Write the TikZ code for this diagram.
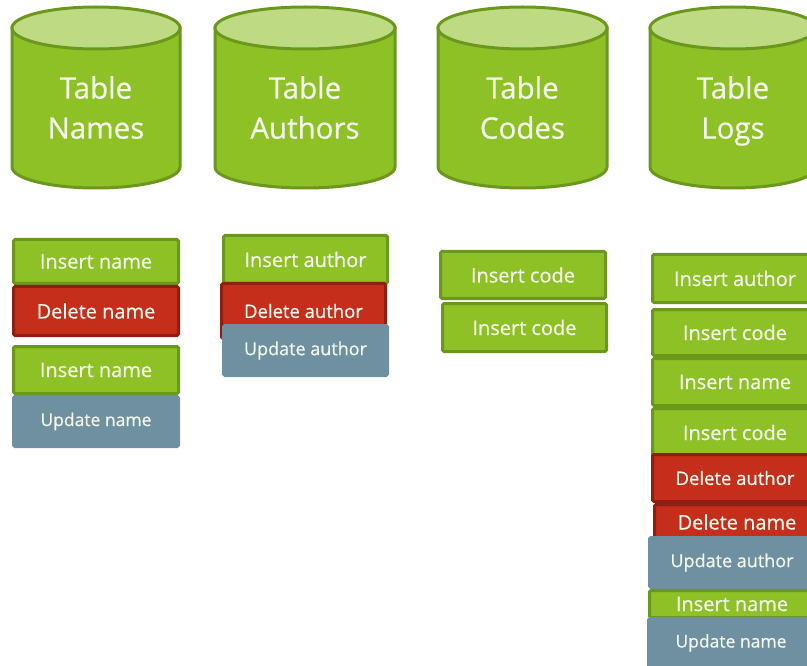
\documentclass[tikz,border=0pt]{standalone}
\usepackage{fontspec}
\setmainfont{Open Sans}
\newfontfamily\opfont{Open Sans}[FakeBold=0.6]
\definecolor{tblgreen}{RGB}{141,193,37}
\definecolor{tbldark}{RGB}{107,152,28}
\definecolor{tbltop}{RGB}{190,218,131}
\definecolor{delred}{RGB}{196,46,26}
\definecolor{deldark}{RGB}{145,30,18}
\definecolor{updblue}{RGB}{110,144,160}
\definecolor{optext}{RGB}{244,247,236}
\tikzset{
  op/.style={rectangle,rounded corners=1.5pt,line width=3pt,inner sep=0pt,
    text=optext,font=\opfont\fontsize{17.5}{17.5}\selectfont,minimum width=165pt},
  ins/.style={op,fill=tblgreen,draw=tbldark,font=\opfont\fontsize{20}{20}\selectfont},
  del/.style={op,fill=delred,draw=deldark,font=\opfont\fontsize{19}{19}\selectfont},
  upd/.style={op,fill=updblue,draw=updblue},
  tbl/.style={align=center,anchor=north,inner sep=0pt,text=optext,font=\opfont\fontsize{29.5}{40}\selectfont}
}
\begin{document}
\begin{tikzpicture}[x=1pt,y=-1pt]
  \clip (0,0) rectangle (807,666);
  \fill[white] (0,0) rectangle (807,666);
  % tables
  \foreach \cx/\rx/\id/\lbl in {96/84/names/Names,305/90/authors/Authors,522.5/84.5/codes/Codes,733/83/logs/Logs}{
    \draw[line width=3pt,draw=tbldark,fill=tblgreen] (\cx-\rx,28) -- (\cx-\rx,167)
      arc[start angle=180,end angle=0,x radius=\rx,y radius=21] -- (\cx+\rx,28) -- cycle;
    \draw[line width=3pt,draw=tbldark,fill=tbltop] (\cx,28) ellipse[x radius=\rx,y radius=21];
    \node[tbl] (\id) at (\cx,76) {Table\\\lbl};
  }
  % names
  \node[ins,minimum height=44pt] (nm1) at (96,261.5) {Insert name};
  \node[del,minimum height=49pt,font=\opfont\fontsize{20}{20}\selectfont] (nm2) at (96,311) {Delete name};
  \node[ins,minimum height=47pt] (nm3) at (96,370) {Insert name};
  \node[upd,minimum height=50pt] (nm4) at (96,421.5) {Update name};
  % authors
  \node[ins,minimum height=48pt,minimum width=164pt] (au1) at (305.5,259.5) {Insert author};
  \node[del,minimum height=55pt,minimum width=164pt,font=\opfont\fontsize{18.5}{18.5}\selectfont] (au2) at (303.5,311) {Delete author};
  \node[upd,minimum height=50pt,minimum width=164pt,font=\opfont\fontsize{18}{18}\selectfont] (au3) at (305.5,350.5) {Update author};
  % codes
  \node[ins,minimum height=47pt] (cd1) at (523,275) {Insert code};
  \node[ins,minimum height=48pt,minimum width=164pt] (cd2) at (524.5,327.5) {Insert code};
  % logs
  \node[ins,minimum height=48pt] (lg1) at (735,278.5) {Insert author};
  \node[ins,minimum height=46pt] (lg2) at (735,332.5) {Insert code};
  \node[ins,minimum height=47pt] (lg3) at (735,382) {Insert name};
  \node[ins,minimum height=48pt] (lg4) at (735,432.5) {Insert code};
  \node[del,minimum height=47pt,font=\opfont\fontsize{18.5}{18.5}\selectfont] (lg5) at (735,478) {Delete author};
  \node[del,minimum height=35pt,font=\opfont\fontsize{20}{20}\selectfont] (lg6) at (737,522) {Delete name};
  \node[upd,minimum height=50pt,font=\opfont\fontsize{18}{18}\selectfont] (lg7) at (732,562.5) {Update author};
  \node[ins,minimum height=27pt] (lg8) at (732,604) {Insert name};
  \node[upd,minimum height=49pt] (lg9) at (731,643) {Update name};
\end{tikzpicture}
\end{document}
